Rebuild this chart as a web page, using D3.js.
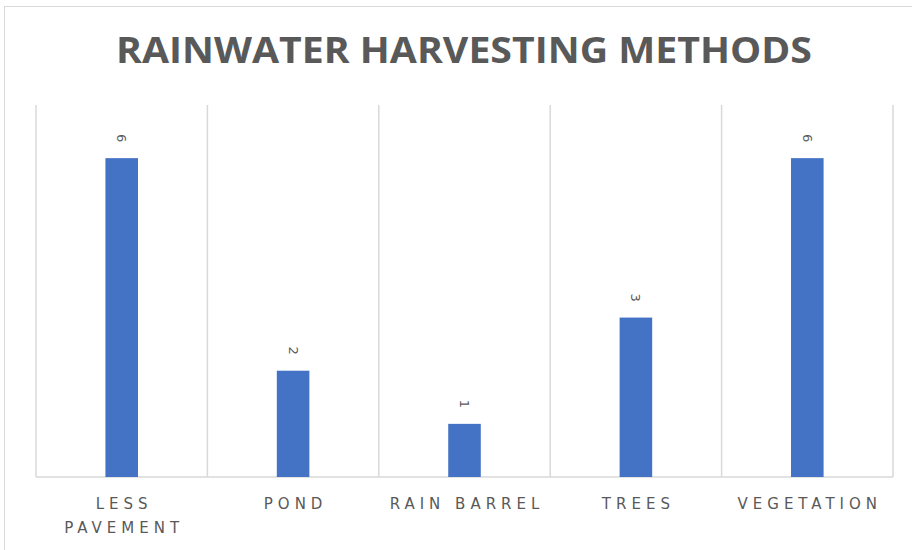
<!DOCTYPE html>
<html lang="en">
  <head>
    <meta charset="UTF-8"/>
    <title>Rainwater Harvesting Methods</title>
    <script src="https://d3js.org/d3.v7.min.js"></script>
    <style>
        body { margin: 0; background: #fff; }
        .frame { fill: #fff; stroke: #d9d9d9; }
        .grid line { stroke: #d9d9d9; stroke-width: 1.5; }
        .title { font: bold 35px "Open Sans", sans-serif; fill: #595959; }
        .cat { font: 15px "DejaVu Sans", sans-serif; fill: #595959; letter-spacing: 5px; }
        .val { font: 13px "DejaVu Sans", sans-serif; fill: #595959; }
    </style>
  </head>
  <body>
    <script>
        // data
        const categories = ["LESS PAVEMENT", "POND", "RAIN BARREL", "TREES", "VEGETATION"];
        const labelLines = [["LESS", "PAVEMENT"], ["POND"], ["RAIN BARREL"], ["TREES"], ["VEGETATION"]];
        const values = [6, 2, 1, 3, 6];
        const yMax = 7;

        const W = 912, H = 550;
        const plot = {left: 36, right: 893, top: 105, bottom: 477};

        const svg = d3.select("body").append("svg")
            .attr("width", W)
            .attr("height", H);

        // chart frame
        svg.append("rect")
            .attr("class", "frame")
            .attr("x", 4.5).attr("y", 6.5)
            .attr("width", 920).attr("height", 560);

        svg.append("text")
            .attr("class", "title")
            .attr("x", 464).attr("y", 63)
            .attr("text-anchor", "middle")
            .attr("textLength", 696)
            .attr("lengthAdjust", "spacingAndGlyphs")
            .text("RAINWATER HARVESTING METHODS");

        const x = d3.scaleBand()
            .domain(categories)
            .range([plot.left, plot.right])
            .paddingInner(0)
            .paddingOuter(0);

        const y = d3.scaleLinear()
            .domain([0, yMax])
            .range([plot.bottom, plot.top]);

        // vertical category dividers
        const bounds = categories.map(c => x(c)).concat([plot.right]);
        svg.append("g").attr("class", "grid")
          .selectAll("line")
          .data(bounds)
          .join("line")
            .attr("x1", d => d).attr("x2", d => d)
            .attr("y1", y(yMax)).attr("y2", y(0));

        // bottom axis line
        svg.append("g").attr("class", "grid")
          .append("line")
            .attr("x1", plot.left).attr("x2", plot.right)
            .attr("y1", y(0)).attr("y2", y(0));

        const barW = x.bandwidth() * 0.19;

        svg.append("g")
          .selectAll("rect")
          .data(values)
          .join("rect")
            .attr("x", (d, i) => x(categories[i]) + x.bandwidth() / 2 - barW / 2)
            .attr("y", d => y(d))
            .attr("width", barW)
            .attr("height", d => y(0) - y(d))
            .attr("fill", "#4472c4");

        // rotated value labels
        svg.append("g")
          .selectAll("text")
          .data(values)
          .join("text")
            .attr("class", "val")
            .attr("transform", (d, i) =>
              `translate(${x(categories[i]) + x.bandwidth() / 2},${y(d) - 20}) rotate(90)`)
            .attr("text-anchor", "middle")
            .attr("dy", "0.35em")
            .text(d => d);

        // category labels
        const cats = svg.append("g")
          .selectAll("text")
          .data(labelLines)
          .join("text")
            .attr("class", "cat")
            .attr("x", (d, i) => x(categories[i]) + x.bandwidth() / 2 + 2.5)
            .attr("y", 509)
            .attr("text-anchor", "middle");

        cats.selectAll("tspan")
          .data(d => d)
          .join("tspan")
            .attr("x", function () { return d3.select(this.parentNode).attr("x"); })
            .attr("dy", (d, i) => i === 0 ? 0 : 24)
            .text(d => d);
    </script>
  </body>
</html>
